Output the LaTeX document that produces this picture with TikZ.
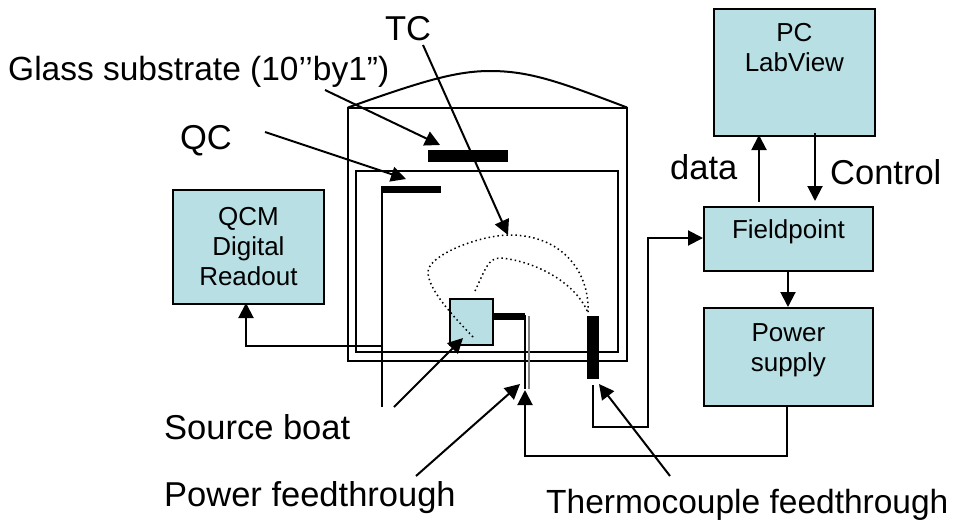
\documentclass[tikz,border=0pt]{standalone}
\usepackage{fontspec}
\setmainfont{Liberation Sans}
\usetikzlibrary{arrows.meta}
\definecolor{boxfill}{HTML}{B8DFE3}
\tikzset{
  x=1pt,y=-1pt,
  box/.style={draw=black,line width=1.8pt,fill=boxfill,rectangle,inner sep=0pt,anchor=north west,align=center,font=\fontsize{26}{30}\selectfont},
  lab/.style={inner sep=0pt,font=\fontsize{34.5}{38}\selectfont,text=black},
  longlab/.style={inner sep=0pt,font=\fontsize{33.5}{38}\selectfont,text=black},
  bar/.style={fill=black,draw=none,rectangle,inner sep=0pt,anchor=north west},
  wire/.style={draw=black,line width=2pt},
  arr/.style={wire,-{Triangle[length=15pt,width=15pt]}},
  dot/.style={draw=black,line width=1.5pt,dash pattern=on 1.5pt off 3pt},
}
\begin{document}
\begin{tikzpicture}
\useasboundingbox (0,0) rectangle (963,522);
% chamber
\coordinate (c1) at (348,107.5);
\coordinate (c2) at (627,107.5);
\draw[wire] (348,107.5) rectangle (627,361);
\draw[wire] (356,171) rectangle (618,352);
\draw[wire] (c1) .. controls (420,82) and (455,71) .. (490,71) .. controls (530,71) and (560,82) .. (c2);
% boxes
\node[box,minimum width=161pt,minimum height=127pt,text depth=49pt] (pc) at (713,8) {PC\\LabView};
\node[box,minimum width=169pt,minimum height=64pt,text depth=19pt] (fp) at (703,206) {Fieldpoint};
\node[box,minimum width=169pt,minimum height=98pt,text depth=18pt] (ps) at (703,307) {Power\\supply};
\node[box,minimum width=151pt,minimum height=114pt] (qcm) at (172,189) {QCM\\Digital\\Readout};
\node[box,minimum width=43pt,minimum height=46pt] (boat) at (449,298) {};
% bars
\node[bar,minimum width=80pt,minimum height=12pt] (glass) at (428,150) {};
\node[bar,minimum width=60pt,minimum height=7pt] (qcbar) at (381,186) {};
\node[bar,minimum width=33pt,minimum height=7pt] (arm) at (492,313) {};
\node[bar,minimum width=12pt,minimum height=63pt] (tcbar) at (587,316) {};
% wires
\coordinate (stemt) at (382,186);
\coordinate (stemb) at (382,407);
\coordinate (qj) at (382,346);
\draw[wire] (stemt) -- (stemb);
\draw[arr] (qj) -| (246,303);
\draw[wire] (525,315) -- (525,389);
\draw[draw=gray,line width=2pt] (529,316) -- (529,389);
% dotted
\draw[dot] (473,337) .. controls (455,318) and (428,290) .. (428,272) .. controls (428,255) and (480,235) .. (510,235) .. controls (560,235) and (590,270) .. (588,313);
\draw[dot] (475,291) .. controls (485,270) and (488,258) .. (500,258) .. controls (530,260) and (575,280) .. (588,313);
% instrument arrows
\coordinate (tcs) at (593,385);
\draw[arr] (tcs) -- (593,427) -- (648,427) -- (648,238) -- (fp.west |- 0,238);
\draw[arr] (787,405) -- (787,456) -- (525,456) -- (525,390);
\draw[arr] (759,202) -- (759,135);
\draw[arr] (815,133) -- (815,201);
\draw[arr] (788,270) -- (788,307);
% pointer arrows
\draw[arr] (325,90) -- (440,145);
\draw[arr] (265,132) -- (406,179);
\draw[arr] (423,45) -- (508,235);
\draw[arr] (394,407) -- (463,338);
\draw[arr] (416,476) -- (520,384);
\draw[arr] (670,476) -- (599,384);
% labels
\node[longlab,anchor=base west] (l1) at (8,80) {Glass substrate (10’’by1”)};
\node[lab] (l2) at (408,29) {TC};
\node[lab] (l3) at (206,141) {QC};
\node[lab,anchor=base west] (l4) at (164,439) {Source boat};
\node[lab,anchor=base west] (l5) at (164,506) {Power feedthrough};
\node[longlab,anchor=base west] (l6) at (546,513) {Thermocouple feedthrough};
\node[lab,anchor=base west] (l7) at (670,179) {data};
\node[lab,anchor=base west] (l8) at (830,184) {Control};
\end{tikzpicture}
\end{document}
